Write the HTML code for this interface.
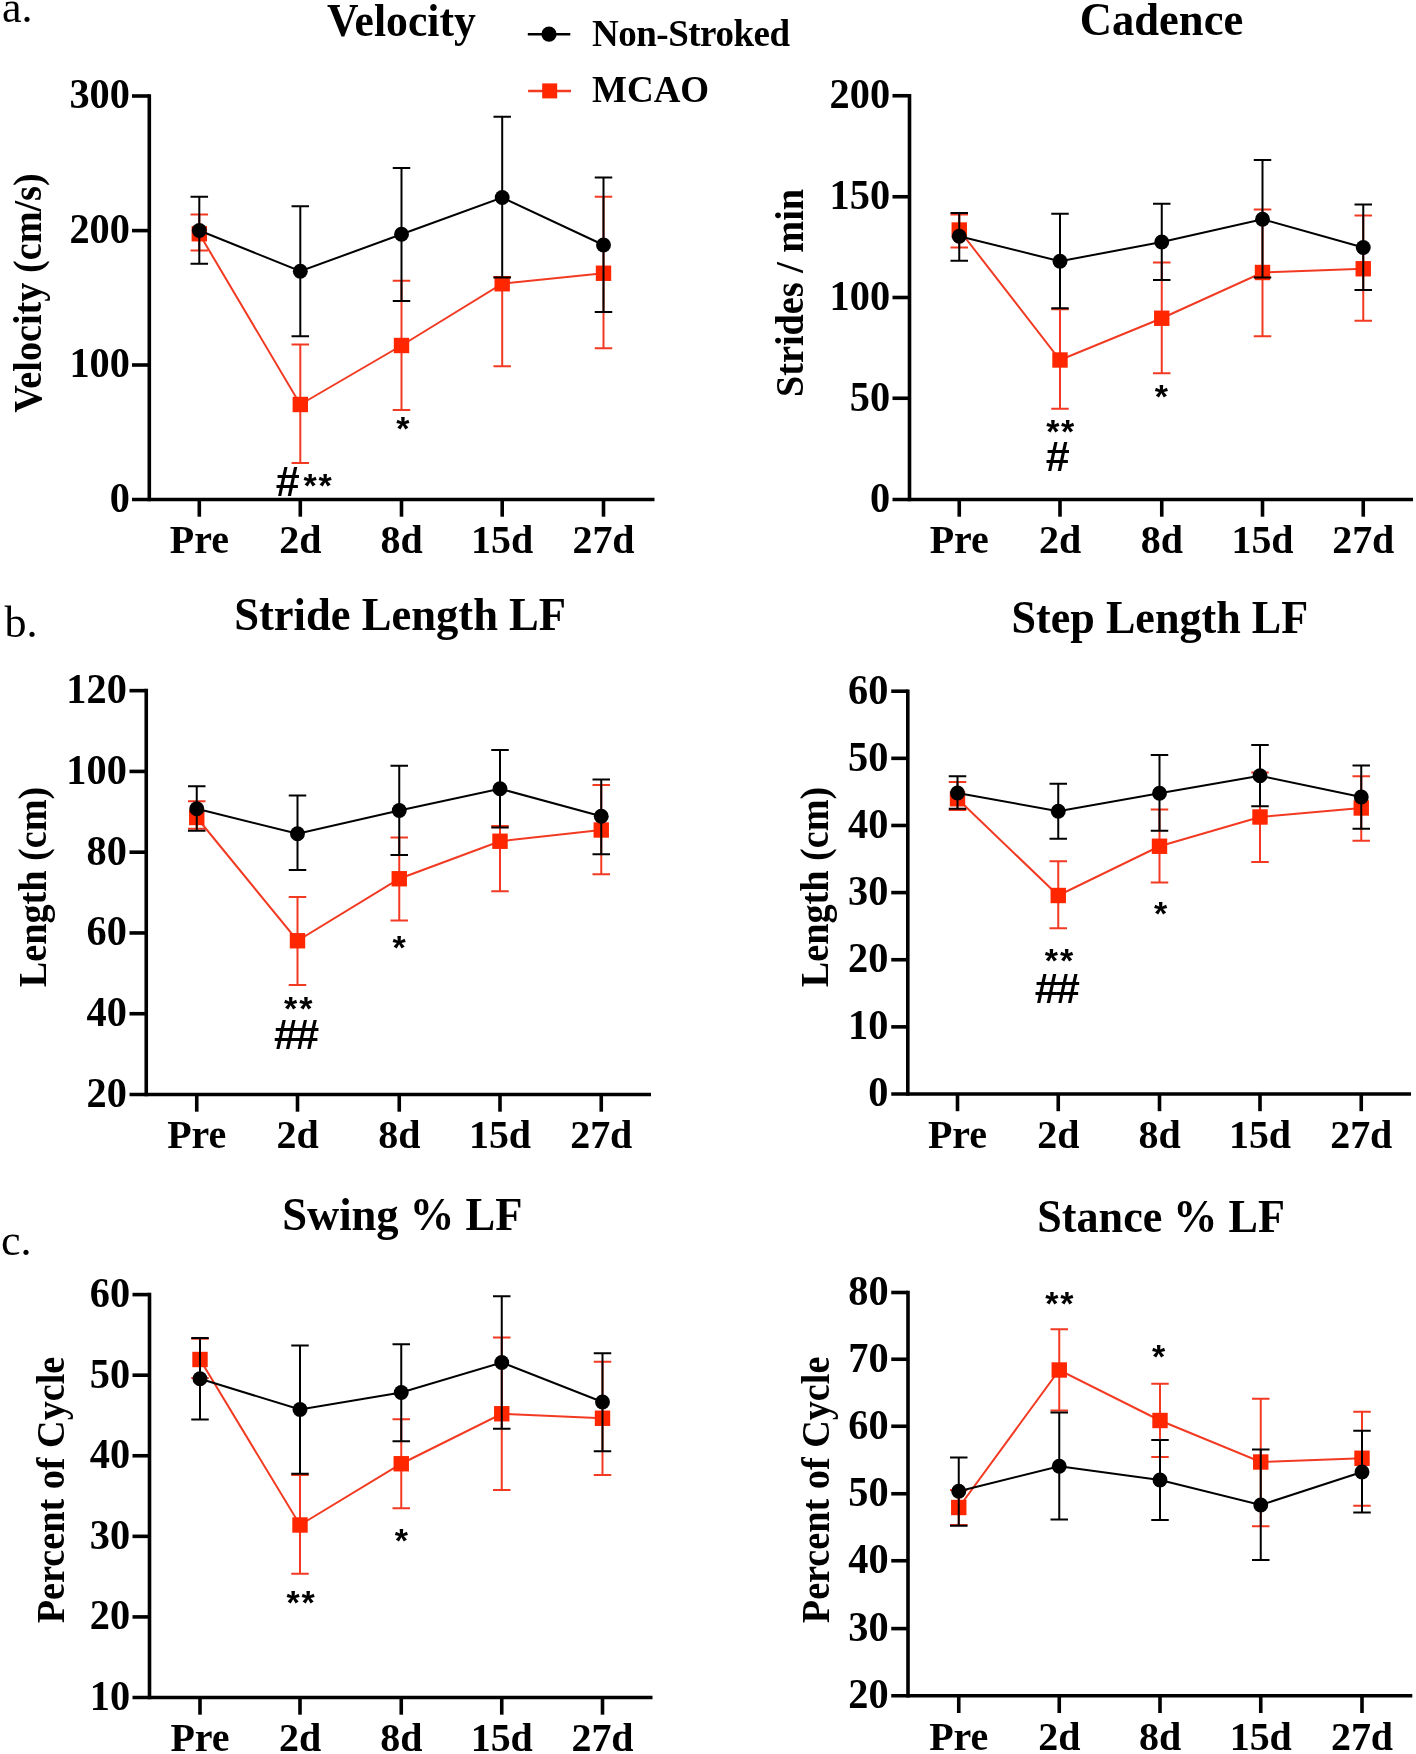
<!DOCTYPE html>
<html><head><meta charset="utf-8"><style>
html,body{margin:0;padding:0;background:#fff;}
svg{display:block;filter:blur(0.4px);}
text{font-family:"Liberation Serif", serif;}
.tl{font-weight:bold;font-size:41.5px;}
.xl{font-weight:bold;font-size:41px;}
.tt{font-weight:bold;font-size:45.5px;}
.yt{font-weight:bold;font-size:41px;}
.lg{font-weight:bold;font-size:37px;}
.pl{font-weight:normal;font-size:44px;}
.st{font-family:"Liberation Sans", sans-serif;font-weight:bold;font-size:34px;}
.hs{font-family:"Liberation Sans", sans-serif;font-weight:bold;font-size:43px;}
</style></head><body>
<svg width="1416" height="1754" viewBox="0 0 1416 1754">
<rect width="1416" height="1754" fill="#fff"/>
<text x="2" y="22" class="pl">a.</text>
<text x="4.5" y="637" class="pl">b.</text>
<text x="1" y="1254.5" class="pl">c.</text>
<line x1="527.8" y1="34.2" x2="570.3" y2="34.2" stroke="#000" stroke-width="2.5"/>
<circle cx="549" cy="34.2" r="7.6" fill="#000"/>
<line x1="528.1" y1="90.9" x2="571" y2="90.9" stroke="#f23a22" stroke-width="2.5"/>
<rect x="542.2" y="83.4" width="15" height="15" fill="#ff2600"/>
<text x="592" y="46.4" class="lg" textLength="198">Non-Stroked</text>
<text x="592" y="102" class="lg">MCAO</text>
<g><line x1="149.3" y1="94.2" x2="149.3" y2="501.3" stroke="#000" stroke-width="3.6"/><line x1="132" y1="499.5" x2="654.5" y2="499.5" stroke="#000" stroke-width="3.6"/><text transform="translate(129.9,511.9) scale(0.972,1)" class="tl" text-anchor="end">0</text><line x1="132" y1="365" x2="149.3" y2="365" stroke="#000" stroke-width="3.6"/><text transform="translate(129.9,377.4) scale(0.972,1)" class="tl" text-anchor="end">100</text><line x1="132" y1="230.6" x2="149.3" y2="230.6" stroke="#000" stroke-width="3.6"/><text transform="translate(129.9,243) scale(0.972,1)" class="tl" text-anchor="end">200</text><line x1="132" y1="96" x2="149.3" y2="96" stroke="#000" stroke-width="3.6"/><text transform="translate(129.9,108.4) scale(0.972,1)" class="tl" text-anchor="end">300</text><line x1="199.3" y1="499.5" x2="199.3" y2="516.7" stroke="#000" stroke-width="3.6"/><text transform="translate(199.3,553.3) scale(0.975,1)" class="xl" text-anchor="middle">Pre</text><line x1="300.3" y1="499.5" x2="300.3" y2="516.7" stroke="#000" stroke-width="3.6"/><text transform="translate(300.3,553.3) scale(0.975,1)" class="xl" text-anchor="middle">2d</text><line x1="401.5" y1="499.5" x2="401.5" y2="516.7" stroke="#000" stroke-width="3.6"/><text transform="translate(401.5,553.3) scale(0.975,1)" class="xl" text-anchor="middle">8d</text><line x1="502.2" y1="499.5" x2="502.2" y2="516.7" stroke="#000" stroke-width="3.6"/><text transform="translate(502.2,553.3) scale(0.975,1)" class="xl" text-anchor="middle">15d</text><line x1="603.5" y1="499.5" x2="603.5" y2="516.7" stroke="#000" stroke-width="3.6"/><text transform="translate(603.5,553.3) scale(0.975,1)" class="xl" text-anchor="middle">27d</text><path d="M199.3 214.5V250.5M190.55 214.5H208.05M190.55 250.5H208.05" stroke="#f23a22" stroke-width="2.0" fill="none"/><path d="M300.3 344.5V463M291.55 344.5H309.05M291.55 463H309.05" stroke="#f23a22" stroke-width="2.0" fill="none"/><path d="M401.5 280.75V410M392.75 280.75H410.25M392.75 410H410.25" stroke="#f23a22" stroke-width="2.0" fill="none"/><path d="M502.2 277V366.25M493.45 277H510.95M493.45 366.25H510.95" stroke="#f23a22" stroke-width="2.0" fill="none"/><path d="M603.5 196.75V348.25M594.75 196.75H612.25M594.75 348.25H612.25" stroke="#f23a22" stroke-width="2.0" fill="none"/><polyline points="199.3,233.75 300.3,404.5 401.5,345.5 502.2,283.75 603.5,273.25" stroke="#f23a22" stroke-width="2.0" fill="none"/><rect x="191.6" y="226.05" width="15.4" height="15.4" fill="#ff2600"/><rect x="292.6" y="396.8" width="15.4" height="15.4" fill="#ff2600"/><rect x="393.8" y="337.8" width="15.4" height="15.4" fill="#ff2600"/><rect x="494.5" y="276.05" width="15.4" height="15.4" fill="#ff2600"/><rect x="595.8" y="265.55" width="15.4" height="15.4" fill="#ff2600"/><path d="M199.3 196.75V263.75M190.55 196.75H208.05M190.55 263.75H208.05" stroke="#000" stroke-width="2.0" fill="none"/><path d="M300.3 206.25V336.25M291.55 206.25H309.05M291.55 336.25H309.05" stroke="#000" stroke-width="2.0" fill="none"/><path d="M401.5 168V301M392.75 168H410.25M392.75 301H410.25" stroke="#000" stroke-width="2.0" fill="none"/><path d="M502.2 116.75V277.5M493.45 116.75H510.95M493.45 277.5H510.95" stroke="#000" stroke-width="2.0" fill="none"/><path d="M603.5 177.5V312M594.75 177.5H612.25M594.75 312H612.25" stroke="#000" stroke-width="2.0" fill="none"/><polyline points="199.3,230.5 300.3,271.25 401.5,234.25 502.2,197.5 603.5,245" stroke="#000" stroke-width="2.0" fill="none"/><circle cx="199.3" cy="230.5" r="7.45" fill="#000"/><circle cx="300.3" cy="271.25" r="7.45" fill="#000"/><circle cx="401.5" cy="234.25" r="7.45" fill="#000"/><circle cx="502.2" cy="197.5" r="7.45" fill="#000"/><circle cx="603.5" cy="245" r="7.45" fill="#000"/><text transform="translate(401.4,35.5) scale(0.96,1)" class="tt" text-anchor="middle">Velocity</text><text transform="translate(41.2,293) rotate(-90) scale(0.932,1)" class="yt" text-anchor="middle">Velocity (cm/s)</text></g><g><line x1="909.5" y1="93.95" x2="909.5" y2="501.3" stroke="#000" stroke-width="3.6"/><line x1="892.5" y1="499.5" x2="1413" y2="499.5" stroke="#000" stroke-width="3.6"/><text transform="translate(890.1,511.9) scale(0.972,1)" class="tl" text-anchor="end">0</text><line x1="892.5" y1="398.25" x2="909.5" y2="398.25" stroke="#000" stroke-width="3.6"/><text transform="translate(890.1,410.65) scale(0.972,1)" class="tl" text-anchor="end">50</text><line x1="892.5" y1="297.5" x2="909.5" y2="297.5" stroke="#000" stroke-width="3.6"/><text transform="translate(890.1,309.9) scale(0.972,1)" class="tl" text-anchor="end">100</text><line x1="892.5" y1="196.75" x2="909.5" y2="196.75" stroke="#000" stroke-width="3.6"/><text transform="translate(890.1,209.15) scale(0.972,1)" class="tl" text-anchor="end">150</text><line x1="892.5" y1="95.75" x2="909.5" y2="95.75" stroke="#000" stroke-width="3.6"/><text transform="translate(890.1,108.15) scale(0.972,1)" class="tl" text-anchor="end">200</text><line x1="959.25" y1="499.5" x2="959.25" y2="516.7" stroke="#000" stroke-width="3.6"/><text transform="translate(959.25,553.3) scale(0.975,1)" class="xl" text-anchor="middle">Pre</text><line x1="1060" y1="499.5" x2="1060" y2="516.7" stroke="#000" stroke-width="3.6"/><text transform="translate(1060,553.3) scale(0.975,1)" class="xl" text-anchor="middle">2d</text><line x1="1161.75" y1="499.5" x2="1161.75" y2="516.7" stroke="#000" stroke-width="3.6"/><text transform="translate(1161.75,553.3) scale(0.975,1)" class="xl" text-anchor="middle">8d</text><line x1="1262.5" y1="499.5" x2="1262.5" y2="516.7" stroke="#000" stroke-width="3.6"/><text transform="translate(1262.5,553.3) scale(0.975,1)" class="xl" text-anchor="middle">15d</text><line x1="1363.25" y1="499.5" x2="1363.25" y2="516.7" stroke="#000" stroke-width="3.6"/><text transform="translate(1363.25,553.3) scale(0.975,1)" class="xl" text-anchor="middle">27d</text><path d="M959.25 214.5V247.5M950.5 214.5H968M950.5 247.5H968" stroke="#f23a22" stroke-width="2.0" fill="none"/><path d="M1060 309.25V408.75M1051.25 309.25H1068.75M1051.25 408.75H1068.75" stroke="#f23a22" stroke-width="2.0" fill="none"/><path d="M1161.75 262.5V373.25M1153 262.5H1170.5M1153 373.25H1170.5" stroke="#f23a22" stroke-width="2.0" fill="none"/><path d="M1262.5 209.5V336.25M1253.75 209.5H1271.25M1253.75 336.25H1271.25" stroke="#f23a22" stroke-width="2.0" fill="none"/><path d="M1363.25 215.5V320.75M1354.5 215.5H1372M1354.5 320.75H1372" stroke="#f23a22" stroke-width="2.0" fill="none"/><polyline points="959.25,230 1060,360 1161.75,318.25 1262.5,272.5 1363.25,268.75" stroke="#f23a22" stroke-width="2.0" fill="none"/><rect x="951.55" y="222.3" width="15.4" height="15.4" fill="#ff2600"/><rect x="1052.3" y="352.3" width="15.4" height="15.4" fill="#ff2600"/><rect x="1154.05" y="310.55" width="15.4" height="15.4" fill="#ff2600"/><rect x="1254.8" y="264.8" width="15.4" height="15.4" fill="#ff2600"/><rect x="1355.55" y="261.05" width="15.4" height="15.4" fill="#ff2600"/><path d="M959.25 213V260.75M950.5 213H968M950.5 260.75H968" stroke="#000" stroke-width="2.0" fill="none"/><path d="M1060 213.75V308.25M1051.25 213.75H1068.75M1051.25 308.25H1068.75" stroke="#000" stroke-width="2.0" fill="none"/><path d="M1161.75 203.75V280M1153 203.75H1170.5M1153 280H1170.5" stroke="#000" stroke-width="2.0" fill="none"/><path d="M1262.5 160V277.5M1253.75 160H1271.25M1253.75 277.5H1271.25" stroke="#000" stroke-width="2.0" fill="none"/><path d="M1363.25 204.5V290M1354.5 204.5H1372M1354.5 290H1372" stroke="#000" stroke-width="2.0" fill="none"/><polyline points="959.25,236.25 1060,261.25 1161.75,242 1262.5,219.25 1363.25,247.5" stroke="#000" stroke-width="2.0" fill="none"/><circle cx="959.25" cy="236.25" r="7.45" fill="#000"/><circle cx="1060" cy="261.25" r="7.45" fill="#000"/><circle cx="1161.75" cy="242" r="7.45" fill="#000"/><circle cx="1262.5" cy="219.25" r="7.45" fill="#000"/><circle cx="1363.25" cy="247.5" r="7.45" fill="#000"/><text transform="translate(1161.5,35.2) scale(0.98,1)" class="tt" text-anchor="middle">Cadence</text><text transform="translate(803,293) rotate(-90) scale(0.932,1)" class="yt" text-anchor="middle">Strides / min</text></g><g><line x1="146.25" y1="688.85" x2="146.25" y2="1096.3" stroke="#000" stroke-width="3.6"/><line x1="129.5" y1="1094.5" x2="651" y2="1094.5" stroke="#000" stroke-width="3.6"/><text transform="translate(126.85,1106.9) scale(0.972,1)" class="tl" text-anchor="end">20</text><line x1="129.5" y1="1013.73" x2="146.25" y2="1013.73" stroke="#000" stroke-width="3.6"/><text transform="translate(126.85,1026.13) scale(0.972,1)" class="tl" text-anchor="end">40</text><line x1="129.5" y1="932.96" x2="146.25" y2="932.96" stroke="#000" stroke-width="3.6"/><text transform="translate(126.85,945.36) scale(0.972,1)" class="tl" text-anchor="end">60</text><line x1="129.5" y1="852.19" x2="146.25" y2="852.19" stroke="#000" stroke-width="3.6"/><text transform="translate(126.85,864.59) scale(0.972,1)" class="tl" text-anchor="end">80</text><line x1="129.5" y1="771.42" x2="146.25" y2="771.42" stroke="#000" stroke-width="3.6"/><text transform="translate(126.85,783.82) scale(0.972,1)" class="tl" text-anchor="end">100</text><line x1="129.5" y1="690.65" x2="146.25" y2="690.65" stroke="#000" stroke-width="3.6"/><text transform="translate(126.85,703.05) scale(0.972,1)" class="tl" text-anchor="end">120</text><line x1="196.75" y1="1094.5" x2="196.75" y2="1111.7" stroke="#000" stroke-width="3.6"/><text transform="translate(196.75,1148.3) scale(0.975,1)" class="xl" text-anchor="middle">Pre</text><line x1="297.5" y1="1094.5" x2="297.5" y2="1111.7" stroke="#000" stroke-width="3.6"/><text transform="translate(297.5,1148.3) scale(0.975,1)" class="xl" text-anchor="middle">2d</text><line x1="399.25" y1="1094.5" x2="399.25" y2="1111.7" stroke="#000" stroke-width="3.6"/><text transform="translate(399.25,1148.3) scale(0.975,1)" class="xl" text-anchor="middle">8d</text><line x1="500" y1="1094.5" x2="500" y2="1111.7" stroke="#000" stroke-width="3.6"/><text transform="translate(500,1148.3) scale(0.975,1)" class="xl" text-anchor="middle">15d</text><line x1="601.25" y1="1094.5" x2="601.25" y2="1111.7" stroke="#000" stroke-width="3.6"/><text transform="translate(601.25,1148.3) scale(0.975,1)" class="xl" text-anchor="middle">27d</text><path d="M196.75 801.25V828.75M188 801.25H205.5M188 828.75H205.5" stroke="#f23a22" stroke-width="2.0" fill="none"/><path d="M297.5 897V985M288.75 897H306.25M288.75 985H306.25" stroke="#f23a22" stroke-width="2.0" fill="none"/><path d="M399.25 837.5V920.5M390.5 837.5H408M390.5 920.5H408" stroke="#f23a22" stroke-width="2.0" fill="none"/><path d="M500 826V891.25M491.25 826H508.75M491.25 891.25H508.75" stroke="#f23a22" stroke-width="2.0" fill="none"/><path d="M601.25 785V874.25M592.5 785H610M592.5 874.25H610" stroke="#f23a22" stroke-width="2.0" fill="none"/><polyline points="196.75,817.5 297.5,940.75 399.25,878.75 500,841.25 601.25,830" stroke="#f23a22" stroke-width="2.0" fill="none"/><rect x="189.05" y="809.8" width="15.4" height="15.4" fill="#ff2600"/><rect x="289.8" y="933.05" width="15.4" height="15.4" fill="#ff2600"/><rect x="391.55" y="871.05" width="15.4" height="15.4" fill="#ff2600"/><rect x="492.3" y="833.55" width="15.4" height="15.4" fill="#ff2600"/><rect x="593.55" y="822.3" width="15.4" height="15.4" fill="#ff2600"/><path d="M196.75 786.25V830.75M188 786.25H205.5M188 830.75H205.5" stroke="#000" stroke-width="2.0" fill="none"/><path d="M297.5 795.5V870M288.75 795.5H306.25M288.75 870H306.25" stroke="#000" stroke-width="2.0" fill="none"/><path d="M399.25 765.75V855M390.5 765.75H408M390.5 855H408" stroke="#000" stroke-width="2.0" fill="none"/><path d="M500 750V827.5M491.25 750H508.75M491.25 827.5H508.75" stroke="#000" stroke-width="2.0" fill="none"/><path d="M601.25 779.5V854.25M592.5 779.5H610M592.5 854.25H610" stroke="#000" stroke-width="2.0" fill="none"/><polyline points="196.75,808.75 297.5,833.75 399.25,810.5 500,788.75 601.25,816.25" stroke="#000" stroke-width="2.0" fill="none"/><circle cx="196.75" cy="808.75" r="7.45" fill="#000"/><circle cx="297.5" cy="833.75" r="7.45" fill="#000"/><circle cx="399.25" cy="810.5" r="7.45" fill="#000"/><circle cx="500" cy="788.75" r="7.45" fill="#000"/><circle cx="601.25" cy="816.25" r="7.45" fill="#000"/><text transform="translate(400.1,629.5) scale(0.98,1)" class="tt" text-anchor="middle">Stride Length LF</text><text transform="translate(45.7,887) rotate(-90) scale(0.932,1)" class="yt" text-anchor="middle">Length (cm)</text></g><g><line x1="907.8" y1="689.4" x2="907.8" y2="1095.8" stroke="#000" stroke-width="3.6"/><line x1="891.25" y1="1094" x2="1411" y2="1094" stroke="#000" stroke-width="3.6"/><text transform="translate(888.4,1106.4) scale(0.972,1)" class="tl" text-anchor="end">0</text><line x1="891.25" y1="1026.87" x2="907.8" y2="1026.87" stroke="#000" stroke-width="3.6"/><text transform="translate(888.4,1039.27) scale(0.972,1)" class="tl" text-anchor="end">10</text><line x1="891.25" y1="959.73" x2="907.8" y2="959.73" stroke="#000" stroke-width="3.6"/><text transform="translate(888.4,972.13) scale(0.972,1)" class="tl" text-anchor="end">20</text><line x1="891.25" y1="892.6" x2="907.8" y2="892.6" stroke="#000" stroke-width="3.6"/><text transform="translate(888.4,905) scale(0.972,1)" class="tl" text-anchor="end">30</text><line x1="891.25" y1="825.47" x2="907.8" y2="825.47" stroke="#000" stroke-width="3.6"/><text transform="translate(888.4,837.87) scale(0.972,1)" class="tl" text-anchor="end">40</text><line x1="891.25" y1="758.33" x2="907.8" y2="758.33" stroke="#000" stroke-width="3.6"/><text transform="translate(888.4,770.73) scale(0.972,1)" class="tl" text-anchor="end">50</text><line x1="891.25" y1="691.2" x2="907.8" y2="691.2" stroke="#000" stroke-width="3.6"/><text transform="translate(888.4,703.6) scale(0.972,1)" class="tl" text-anchor="end">60</text><line x1="957.5" y1="1094" x2="957.5" y2="1111.2" stroke="#000" stroke-width="3.6"/><text transform="translate(957.5,1147.8) scale(0.975,1)" class="xl" text-anchor="middle">Pre</text><line x1="1058.25" y1="1094" x2="1058.25" y2="1111.2" stroke="#000" stroke-width="3.6"/><text transform="translate(1058.25,1147.8) scale(0.975,1)" class="xl" text-anchor="middle">2d</text><line x1="1159.5" y1="1094" x2="1159.5" y2="1111.2" stroke="#000" stroke-width="3.6"/><text transform="translate(1159.5,1147.8) scale(0.975,1)" class="xl" text-anchor="middle">8d</text><line x1="1260" y1="1094" x2="1260" y2="1111.2" stroke="#000" stroke-width="3.6"/><text transform="translate(1260,1147.8) scale(0.975,1)" class="xl" text-anchor="middle">15d</text><line x1="1361.25" y1="1094" x2="1361.25" y2="1111.2" stroke="#000" stroke-width="3.6"/><text transform="translate(1361.25,1147.8) scale(0.975,1)" class="xl" text-anchor="middle">27d</text><path d="M957.5 782V810M948.75 782H966.25M948.75 810H966.25" stroke="#f23a22" stroke-width="2.0" fill="none"/><path d="M1058.25 861.25V928.25M1049.5 861.25H1067M1049.5 928.25H1067" stroke="#f23a22" stroke-width="2.0" fill="none"/><path d="M1159.5 809.5V882.5M1150.75 809.5H1168.25M1150.75 882.5H1168.25" stroke="#f23a22" stroke-width="2.0" fill="none"/><path d="M1260 772.5V862M1251.25 772.5H1268.75M1251.25 862H1268.75" stroke="#f23a22" stroke-width="2.0" fill="none"/><path d="M1361.25 776.25V840.75M1352.5 776.25H1370M1352.5 840.75H1370" stroke="#f23a22" stroke-width="2.0" fill="none"/><polyline points="957.5,798.75 1058.25,895.5 1159.5,846.25 1260,817 1361.25,808" stroke="#f23a22" stroke-width="2.0" fill="none"/><rect x="949.8" y="791.05" width="15.4" height="15.4" fill="#ff2600"/><rect x="1050.55" y="887.8" width="15.4" height="15.4" fill="#ff2600"/><rect x="1151.8" y="838.55" width="15.4" height="15.4" fill="#ff2600"/><rect x="1252.3" y="809.3" width="15.4" height="15.4" fill="#ff2600"/><rect x="1353.55" y="800.3" width="15.4" height="15.4" fill="#ff2600"/><path d="M957.5 776.25V808.75M948.75 776.25H966.25M948.75 808.75H966.25" stroke="#000" stroke-width="2.0" fill="none"/><path d="M1058.25 783.75V838.75M1049.5 783.75H1067M1049.5 838.75H1067" stroke="#000" stroke-width="2.0" fill="none"/><path d="M1159.5 755V830.75M1150.75 755H1168.25M1150.75 830.75H1168.25" stroke="#000" stroke-width="2.0" fill="none"/><path d="M1260 745V806.25M1251.25 745H1268.75M1251.25 806.25H1268.75" stroke="#000" stroke-width="2.0" fill="none"/><path d="M1361.25 765.5V828.75M1352.5 765.5H1370M1352.5 828.75H1370" stroke="#000" stroke-width="2.0" fill="none"/><polyline points="957.5,793 1058.25,811.25 1159.5,793.25 1260,775.75 1361.25,797" stroke="#000" stroke-width="2.0" fill="none"/><circle cx="957.5" cy="793" r="7.45" fill="#000"/><circle cx="1058.25" cy="811.25" r="7.45" fill="#000"/><circle cx="1159.5" cy="793.25" r="7.45" fill="#000"/><circle cx="1260" cy="775.75" r="7.45" fill="#000"/><circle cx="1361.25" cy="797" r="7.45" fill="#000"/><text transform="translate(1159.85,633.2) scale(0.97,1)" class="tt" text-anchor="middle">Step Length LF</text><text transform="translate(827.8,887) rotate(-90) scale(0.932,1)" class="yt" text-anchor="middle">Length (cm)</text></g><g><line x1="149.5" y1="1292.8" x2="149.5" y2="1699.3" stroke="#000" stroke-width="3.6"/><line x1="132.5" y1="1697.5" x2="652.5" y2="1697.5" stroke="#000" stroke-width="3.6"/><text transform="translate(130.1,1709.9) scale(0.972,1)" class="tl" text-anchor="end">10</text><line x1="132.5" y1="1616.92" x2="149.5" y2="1616.92" stroke="#000" stroke-width="3.6"/><text transform="translate(130.1,1629.32) scale(0.972,1)" class="tl" text-anchor="end">20</text><line x1="132.5" y1="1536.34" x2="149.5" y2="1536.34" stroke="#000" stroke-width="3.6"/><text transform="translate(130.1,1548.74) scale(0.972,1)" class="tl" text-anchor="end">30</text><line x1="132.5" y1="1455.76" x2="149.5" y2="1455.76" stroke="#000" stroke-width="3.6"/><text transform="translate(130.1,1468.16) scale(0.972,1)" class="tl" text-anchor="end">40</text><line x1="132.5" y1="1375.18" x2="149.5" y2="1375.18" stroke="#000" stroke-width="3.6"/><text transform="translate(130.1,1387.58) scale(0.972,1)" class="tl" text-anchor="end">50</text><line x1="132.5" y1="1294.6" x2="149.5" y2="1294.6" stroke="#000" stroke-width="3.6"/><text transform="translate(130.1,1307) scale(0.972,1)" class="tl" text-anchor="end">60</text><line x1="200" y1="1697.5" x2="200" y2="1714.7" stroke="#000" stroke-width="3.6"/><text transform="translate(200,1751.3) scale(0.975,1)" class="xl" text-anchor="middle">Pre</text><line x1="300" y1="1697.5" x2="300" y2="1714.7" stroke="#000" stroke-width="3.6"/><text transform="translate(300,1751.3) scale(0.975,1)" class="xl" text-anchor="middle">2d</text><line x1="401.25" y1="1697.5" x2="401.25" y2="1714.7" stroke="#000" stroke-width="3.6"/><text transform="translate(401.25,1751.3) scale(0.975,1)" class="xl" text-anchor="middle">8d</text><line x1="501.75" y1="1697.5" x2="501.75" y2="1714.7" stroke="#000" stroke-width="3.6"/><text transform="translate(501.75,1751.3) scale(0.975,1)" class="xl" text-anchor="middle">15d</text><line x1="602.5" y1="1697.5" x2="602.5" y2="1714.7" stroke="#000" stroke-width="3.6"/><text transform="translate(602.5,1751.3) scale(0.975,1)" class="xl" text-anchor="middle">27d</text><path d="M200 1338.75V1378M191.25 1338.75H208.75M191.25 1378H208.75" stroke="#f23a22" stroke-width="2.0" fill="none"/><path d="M300 1475V1573.75M291.25 1475H308.75M291.25 1573.75H308.75" stroke="#f23a22" stroke-width="2.0" fill="none"/><path d="M401.25 1419.25V1508.25M392.5 1419.25H410M392.5 1508.25H410" stroke="#f23a22" stroke-width="2.0" fill="none"/><path d="M501.75 1337.5V1490M493 1337.5H510.5M493 1490H510.5" stroke="#f23a22" stroke-width="2.0" fill="none"/><path d="M602.5 1361.75V1475M593.75 1361.75H611.25M593.75 1475H611.25" stroke="#f23a22" stroke-width="2.0" fill="none"/><polyline points="200,1359.5 300,1525 401.25,1463.75 501.75,1413.75 602.5,1418.25" stroke="#f23a22" stroke-width="2.0" fill="none"/><rect x="192.3" y="1351.8" width="15.4" height="15.4" fill="#ff2600"/><rect x="292.3" y="1517.3" width="15.4" height="15.4" fill="#ff2600"/><rect x="393.55" y="1456.05" width="15.4" height="15.4" fill="#ff2600"/><rect x="494.05" y="1406.05" width="15.4" height="15.4" fill="#ff2600"/><rect x="594.8" y="1410.55" width="15.4" height="15.4" fill="#ff2600"/><path d="M200 1338V1419.5M191.25 1338H208.75M191.25 1419.5H208.75" stroke="#000" stroke-width="2.0" fill="none"/><path d="M300 1345.5V1473.75M291.25 1345.5H308.75M291.25 1473.75H308.75" stroke="#000" stroke-width="2.0" fill="none"/><path d="M401.25 1344.25V1441.25M392.5 1344.25H410M392.5 1441.25H410" stroke="#000" stroke-width="2.0" fill="none"/><path d="M501.75 1296.25V1428.75M493 1296.25H510.5M493 1428.75H510.5" stroke="#000" stroke-width="2.0" fill="none"/><path d="M602.5 1353.25V1451.25M593.75 1353.25H611.25M593.75 1451.25H611.25" stroke="#000" stroke-width="2.0" fill="none"/><polyline points="200,1378.75 300,1409.5 401.25,1392.5 501.75,1362.5 602.5,1402" stroke="#000" stroke-width="2.0" fill="none"/><circle cx="200" cy="1378.75" r="7.45" fill="#000"/><circle cx="300" cy="1409.5" r="7.45" fill="#000"/><circle cx="401.25" cy="1392.5" r="7.45" fill="#000"/><circle cx="501.75" cy="1362.5" r="7.45" fill="#000"/><circle cx="602.5" cy="1402" r="7.45" fill="#000"/><text transform="translate(402.3,1229.8) scale(0.98,1)" class="tt" text-anchor="middle">Swing % LF</text><text transform="translate(64,1490) rotate(-90) scale(0.932,1)" class="yt" text-anchor="middle">Percent of Cycle</text></g><g><line x1="908" y1="1290.7" x2="908" y2="1697.6" stroke="#000" stroke-width="3.6"/><line x1="891.25" y1="1695.8" x2="1412.3" y2="1695.8" stroke="#000" stroke-width="3.6"/><text transform="translate(888.6,1708.2) scale(0.972,1)" class="tl" text-anchor="end">20</text><line x1="891.25" y1="1628.6" x2="908" y2="1628.6" stroke="#000" stroke-width="3.6"/><text transform="translate(888.6,1641) scale(0.972,1)" class="tl" text-anchor="end">30</text><line x1="891.25" y1="1560.75" x2="908" y2="1560.75" stroke="#000" stroke-width="3.6"/><text transform="translate(888.6,1573.15) scale(0.972,1)" class="tl" text-anchor="end">40</text><line x1="891.25" y1="1493.75" x2="908" y2="1493.75" stroke="#000" stroke-width="3.6"/><text transform="translate(888.6,1506.15) scale(0.972,1)" class="tl" text-anchor="end">50</text><line x1="891.25" y1="1426.25" x2="908" y2="1426.25" stroke="#000" stroke-width="3.6"/><text transform="translate(888.6,1438.65) scale(0.972,1)" class="tl" text-anchor="end">60</text><line x1="891.25" y1="1359.25" x2="908" y2="1359.25" stroke="#000" stroke-width="3.6"/><text transform="translate(888.6,1371.65) scale(0.972,1)" class="tl" text-anchor="end">70</text><line x1="891.25" y1="1292.5" x2="908" y2="1292.5" stroke="#000" stroke-width="3.6"/><text transform="translate(888.6,1304.9) scale(0.972,1)" class="tl" text-anchor="end">80</text><line x1="958.75" y1="1695.8" x2="958.75" y2="1713" stroke="#000" stroke-width="3.6"/><text transform="translate(958.75,1749.6) scale(0.975,1)" class="xl" text-anchor="middle">Pre</text><line x1="1059.25" y1="1695.8" x2="1059.25" y2="1713" stroke="#000" stroke-width="3.6"/><text transform="translate(1059.25,1749.6) scale(0.975,1)" class="xl" text-anchor="middle">2d</text><line x1="1160" y1="1695.8" x2="1160" y2="1713" stroke="#000" stroke-width="3.6"/><text transform="translate(1160,1749.6) scale(0.975,1)" class="xl" text-anchor="middle">8d</text><line x1="1260.75" y1="1695.8" x2="1260.75" y2="1713" stroke="#000" stroke-width="3.6"/><text transform="translate(1260.75,1749.6) scale(0.975,1)" class="xl" text-anchor="middle">15d</text><line x1="1362" y1="1695.8" x2="1362" y2="1713" stroke="#000" stroke-width="3.6"/><text transform="translate(1362,1749.6) scale(0.975,1)" class="xl" text-anchor="middle">27d</text><path d="M958.75 1490V1525M950 1490H967.5M950 1525H967.5" stroke="#f23a22" stroke-width="2.0" fill="none"/><path d="M1059.25 1329.25V1410.5M1050.5 1329.25H1068M1050.5 1410.5H1068" stroke="#f23a22" stroke-width="2.0" fill="none"/><path d="M1160 1383.75V1457M1151.25 1383.75H1168.75M1151.25 1457H1168.75" stroke="#f23a22" stroke-width="2.0" fill="none"/><path d="M1260.75 1398.75V1526.25M1252 1398.75H1269.5M1252 1526.25H1269.5" stroke="#f23a22" stroke-width="2.0" fill="none"/><path d="M1362 1411.75V1505.75M1353.25 1411.75H1370.75M1353.25 1505.75H1370.75" stroke="#f23a22" stroke-width="2.0" fill="none"/><polyline points="958.75,1507.5 1059.25,1370 1160,1420.5 1260.75,1462 1362,1458.25" stroke="#f23a22" stroke-width="2.0" fill="none"/><rect x="951.05" y="1499.8" width="15.4" height="15.4" fill="#ff2600"/><rect x="1051.55" y="1362.3" width="15.4" height="15.4" fill="#ff2600"/><rect x="1152.3" y="1412.8" width="15.4" height="15.4" fill="#ff2600"/><rect x="1253.05" y="1454.3" width="15.4" height="15.4" fill="#ff2600"/><rect x="1354.3" y="1450.55" width="15.4" height="15.4" fill="#ff2600"/><path d="M958.75 1457.5V1525.75M950 1457.5H967.5M950 1525.75H967.5" stroke="#000" stroke-width="2.0" fill="none"/><path d="M1059.25 1412.5V1519.5M1050.5 1412.5H1068M1050.5 1519.5H1068" stroke="#000" stroke-width="2.0" fill="none"/><path d="M1160 1440V1520M1151.25 1440H1168.75M1151.25 1520H1168.75" stroke="#000" stroke-width="2.0" fill="none"/><path d="M1260.75 1449.5V1560M1252 1449.5H1269.5M1252 1560H1269.5" stroke="#000" stroke-width="2.0" fill="none"/><path d="M1362 1430.75V1512.5M1353.25 1430.75H1370.75M1353.25 1512.5H1370.75" stroke="#000" stroke-width="2.0" fill="none"/><polyline points="958.75,1491.25 1059.25,1466.25 1160,1480 1260.75,1505 1362,1472" stroke="#000" stroke-width="2.0" fill="none"/><circle cx="958.75" cy="1491.25" r="7.45" fill="#000"/><circle cx="1059.25" cy="1466.25" r="7.45" fill="#000"/><circle cx="1160" cy="1480" r="7.45" fill="#000"/><circle cx="1260.75" cy="1505" r="7.45" fill="#000"/><circle cx="1362" cy="1472" r="7.45" fill="#000"/><text transform="translate(1161.1,1232.2) scale(0.97,1)" class="tt" text-anchor="middle">Stance % LF</text><text transform="translate(828.5,1489.9) rotate(-90) scale(0.932,1)" class="yt" text-anchor="middle">Percent of Cycle</text></g>
<text x="287.75" y="496.45" class="hs" text-anchor="middle">#</text><text x="310" y="497.25" class="st" text-anchor="middle">*</text><text x="325" y="497.25" class="st" text-anchor="middle">*</text><text x="402.75" y="439.7" class="st" text-anchor="middle">*</text><text x="1052.95" y="443.4" class="st" text-anchor="middle">*</text><text x="1067.6" y="443.4" class="st" text-anchor="middle">*</text><text x="1057.8" y="470.65" class="hs" text-anchor="middle">#</text><text x="1161.45" y="408.2" class="st" text-anchor="middle">*</text><text x="290.7" y="1020.4" class="st" text-anchor="middle">*</text><text x="305.85" y="1020.4" class="st" text-anchor="middle">*</text><text x="295.35" y="1049.1" class="hs" text-anchor="middle" letter-spacing="-2.5">##</text><text x="399.15" y="958.55" class="st" text-anchor="middle">*</text><text x="1051.4" y="971.6" class="st" text-anchor="middle">*</text><text x="1066.7" y="971.6" class="st" text-anchor="middle">*</text><text x="1056.05" y="1003" class="hs" text-anchor="middle" letter-spacing="-2.5">##</text><text x="1160.5" y="925.05" class="st" text-anchor="middle">*</text><text x="293.15" y="1614.1" class="st" text-anchor="middle">*</text><text x="308.2" y="1614.1" class="st" text-anchor="middle">*</text><text x="401.45" y="1552.2" class="st" text-anchor="middle">*</text><text x="1051.9" y="1314.5" class="st" text-anchor="middle">*</text><text x="1066.8" y="1314.5" class="st" text-anchor="middle">*</text><text x="1158.65" y="1367.85" class="st" text-anchor="middle">*</text>
</svg></body></html>
